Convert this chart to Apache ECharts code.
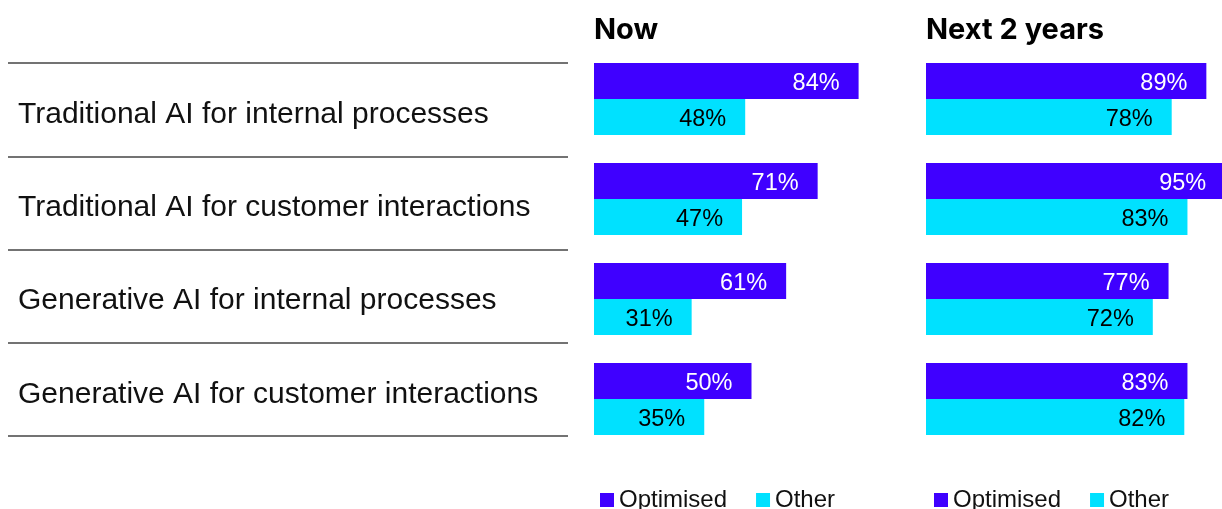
<!DOCTYPE html>
<html><head><meta charset="utf-8">
<script src="https://cdn.jsdelivr.net/npm/echarts@6/dist/echarts.min.js"></script>
<style>html,body{margin:0;padding:0;background:#fff}#c{width:1222px;height:509px}</style>
</head><body><div id="c"></div>
<script>
const categories = ['Traditional AI for internal processes','Traditional AI for customer interactions','Generative AI for internal processes','Generative AI for customer interactions'];
const panelTitles = ['Now','Next 2 years'];
const seriesNames = ['Optimised','Other'];
const nowOptimised = [84,71,61,50];
const nowOther = [48,47,31,35];
const nextOptimised = [89,95,77,83];
const nextOther = [78,83,72,82];

const PURPLE = '#3f00ff', CYAN = '#00e1ff';
const font = 'Liberation Sans, Arial, sans-serif';
const chart = echarts.init(document.getElementById('c'));

function lbl(color){
  return {show:true, position:'insideRight', distance:19, offset:[0,3], color:color, fontSize:23.5, fontFamily:font, formatter:'{c}%'};
}
const panelLeft = [594, 926];
// full-scale (100%) width is 315px; the right panel is cut by the page edge
const panelWidth = [315, 296];
const grids = [], xAxes = [], yAxes = [], series = [];
[[nowOptimised, nowOther],[nextOptimised, nextOther]].forEach((d,i)=>{
  grids.push({left:panelLeft[i], top:49, width:panelWidth[i], height:400});
  xAxes.push({gridIndex:i, type:'value', min:0, max:100*panelWidth[i]/315, show:false});
  yAxes.push({gridIndex:i, type:'category', data:categories, inverse:true, show:false});
  series.push({type:'bar', name:seriesNames[0], xAxisIndex:i, yAxisIndex:i, data:d[0], barWidth:36, barGap:'0%', clip:false, itemStyle:{color:PURPLE}, label:lbl('#fff')});
  series.push({type:'bar', name:seriesNames[1], xAxisIndex:i, yAxisIndex:i, data:d[1], barWidth:36, barGap:'0%', clip:false, itemStyle:{color:CYAN}, label:lbl('#000')});
});
// separator lines on the left
grids.push({left:8, top:63, width:560, height:373});
xAxes.push({gridIndex:2, type:'value', show:false});
yAxes.push({gridIndex:2, type:'category', data:categories, inverse:true,
  axisLine:{show:false}, axisTick:{show:false}, axisLabel:{show:false},
  splitLine:{show:true, lineStyle:{color:'#444', width:1.5}}
});
// category labels (slightly lower than the band centres)
grids.push({left:8, top:68, width:560, height:373});
xAxes.push({gridIndex:3, type:'value', show:false});
yAxes.push({gridIndex:3, type:'category', data:categories, inverse:true,
  axisLine:{show:false}, axisTick:{show:false}, splitLine:{show:false},
  axisLabel:{inside:true, margin:10, color:'#111', fontSize:30, fontFamily:font, align:'left'}
});

chart.setOption({
  animation:false,
  title: panelTitles.map((t,i)=>({text:t, left:panelLeft[i]-5, top:11, textStyle:{fontSize:29, fontWeight:'bold', color:'#000', fontFamily:'Inter, Liberation Sans, sans-serif'}})),
  legend: panelLeft.map((l,i)=>({data:seriesNames, left:(i===0?595:929), top:483, itemWidth:14, itemHeight:14, itemGap:29, icon:'rect', textStyle:{fontSize:24, color:'#111', fontFamily:font, padding:[4,0,0,0]}})),
  grid: grids, xAxis: xAxes, yAxis: yAxes, series: series
});
</script></body></html>
